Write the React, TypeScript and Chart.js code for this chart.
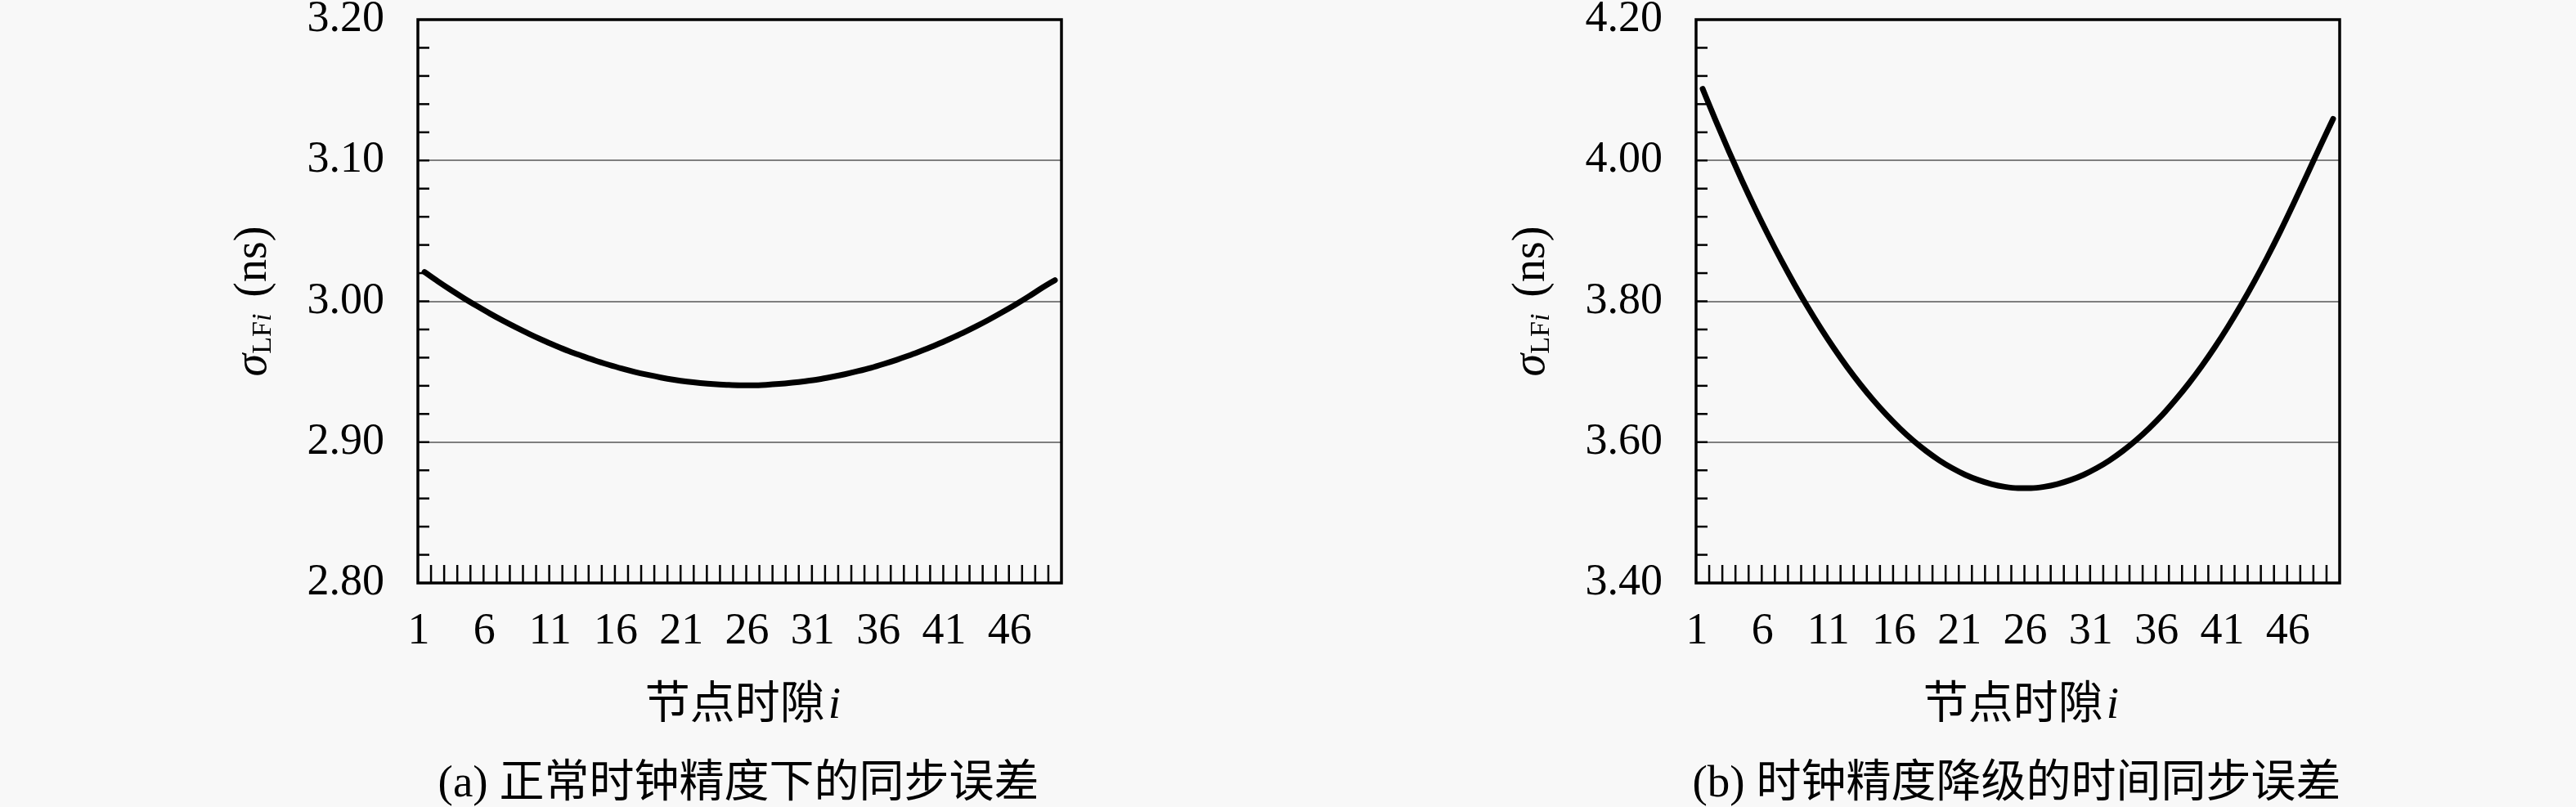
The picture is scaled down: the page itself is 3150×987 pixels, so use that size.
import React, { useEffect, useRef } from "react";
import { Chart, registerables } from "chart.js";

Chart.register(...registerables);

// ---------- data ----------
const slots = [
  "1", "2", "3", "4", "5", "6", "7", "8", "9", "10",
  "11", "12", "13", "14", "15", "16", "17", "18", "19", "20",
  "21", "22", "23", "24", "25", "26", "27", "28", "29", "30",
  "31", "32", "33", "34", "35", "36", "37", "38", "39", "40",
  "41", "42", "43", "44", "45", "46", "47", "48", "49",
];

// (a) normal clock accuracy
const normalSyncError = [
  3.0208, 3.0143, 3.0081, 3.0022, 2.9966, 2.9912, 2.9861, 2.9813, 2.9767, 2.9724,
  2.9684, 2.9646, 2.9612, 2.9579, 2.955, 2.9523, 2.9499, 2.9478, 2.9459, 2.9443,
  2.943, 2.942, 2.9412, 2.9407, 2.9404, 2.9404, 2.9407, 2.9413, 2.9422, 2.9433,
  2.9446, 2.9463, 2.9482, 2.9504, 2.9528, 2.9556, 2.9586, 2.9618, 2.9654, 2.9692,
  2.9733, 2.9776, 2.9822, 2.9871, 2.9923, 2.9977, 3.0034, 3.0094, 3.015,
];

// (b) degraded clock accuracy
const degradedSyncError = [
  4.1017, 4.0564, 4.0129, 3.9713, 3.9316, 3.8938, 3.8579, 3.8239, 3.7918, 3.7615,
  3.7332, 3.7067, 3.6822, 3.6595, 3.6387, 3.6198, 3.6028, 3.5877, 3.5744, 3.5631,
  3.5536, 3.5461, 3.5404, 3.5366, 3.5347, 3.5347, 3.5366, 3.5404, 3.5461, 3.5536,
  3.5631, 3.5744, 3.5877, 3.6028, 3.6198, 3.6387, 3.66, 3.683, 3.708, 3.735,
  3.764, 3.795, 3.828, 3.863, 3.9, 3.939, 3.979, 4.0195, 4.059,
];

const yRangeA = [2.8, 3.2];
const yStepA = 0.1;
const yMinorA = 0.02;
const yRangeB = [3.4, 4.2];
const yStepB = 0.2;
const yMinorB = 0.04;

const xTitleText = "节点时隙";
const captionA = "(a) 正常时钟精度下的同步误差";
const captionB = "(b) 时钟精度降级的时间同步误差";

// ---------- styles ----------
const LATIN = "'Liberation Serif', 'DejaVu Serif', serif";
const CJK = "'Noto Sans CJK SC', sans-serif";
const MIXED = "'Liberation Serif', 'Noto Sans CJK SC', serif";
const BG = "#f8f8f8";

type PanelCfg = {
  values: number[];
  yMin: number;
  yMax: number;
  yStep: number;
  yMinor: number;
  caption: string;
};

function makeDecor(cfg: PanelCfg) {
  return {
    id: "decor",
    afterDraw(chart: any) {
      const { ctx, chartArea: a, scales } = chart;
      const xs = scales.x;
      const ys = scales.y;
      ctx.save();
      ctx.strokeStyle = "#000";
      ctx.lineCap = "butt";
      ctx.lineWidth = 2.5;
      // y minor ticks (inward)
      const n = Math.round((cfg.yMax - cfg.yMin) / cfg.yMinor);
      for (let k = 1; k < n; k++) {
        const py = ys.getPixelForValue(cfg.yMin + k * cfg.yMinor);
        ctx.beginPath();
        ctx.moveTo(a.left, py);
        ctx.lineTo(a.left + 14, py);
        ctx.stroke();
      }
      // x ticks at category boundaries (inward)
      for (let k = 1; k < slots.length; k++) {
        const px = (xs.getPixelForValue(k - 1) + xs.getPixelForValue(k)) / 2;
        ctx.beginPath();
        ctx.moveTo(px, a.bottom);
        ctx.lineTo(px, a.bottom - 22);
        ctx.stroke();
      }
      // frame
      ctx.lineWidth = 3.5;
      ctx.strokeRect(a.left, a.top, a.right - a.left, a.bottom - a.top);

      ctx.fillStyle = "#000";
      ctx.textBaseline = "alphabetic";
      ctx.textAlign = "left";

      // y title: sigma_{LFi} (ns), rotated
      const parts = [
        { t: "σ", f: `italic 56px ${LATIN}`, dy: 0, gap: 0 },
        { t: "LF", f: `34px ${LATIN}`, dy: 6, gap: 0 },
        { t: "i", f: `italic 34px ${LATIN}`, dy: 6, gap: 0 },
        { t: "(ns)", f: `56px ${LATIN}`, dy: 0, gap: 20 },
      ];
      let total = 0;
      const widths: number[] = [];
      for (const p of parts) {
        ctx.font = p.f;
        const w = ctx.measureText(p.t).width;
        widths.push(w);
        total += w + p.gap;
      }
      ctx.save();
      ctx.translate(a.left - 186, (a.top + a.bottom) / 2);
      ctx.rotate(-Math.PI / 2);
      let cx = -total / 2;
      parts.forEach((p, i) => {
        cx += p.gap;
        ctx.font = p.f;
        ctx.fillText(p.t, cx, p.dy);
        cx += widths[i];
      });
      ctx.restore();

      // x title: 节点时隙 i
      const midX = (a.left + a.right) / 2;
      ctx.font = `55px ${CJK}`;
      const wT = ctx.measureText(xTitleText).width;
      ctx.font = `italic 55px ${LATIN}`;
      const wI = ctx.measureText("i").width;
      const tx = midX + 4 - (wT + wI + 4) / 2;
      ctx.font = `55px ${CJK}`;
      ctx.fillText(xTitleText, tx, 878);
      ctx.font = `italic 55px ${LATIN}`;
      ctx.fillText("i", tx + wT + 4, 878);

      // caption
      ctx.font = `55px ${MIXED}`;
      ctx.textAlign = "center";
      ctx.fillText(cfg.caption, midX - 1.5, 974);
      ctx.restore();
    },
  };
}

function makeChart(canvas: HTMLCanvasElement, cfg: PanelCfg) {
  return new Chart(canvas, {
    type: "line",
    data: {
      labels: slots,
      datasets: [
        {
          data: cfg.values,
          borderColor: "#000",
          borderWidth: 7,
          borderCapStyle: "round",
          borderJoinStyle: "round",
          pointRadius: 0,
          cubicInterpolationMode: "monotone",
          fill: false,
        },
      ],
    },
    options: {
      animation: false,
      responsive: false,
      devicePixelRatio: 1,
      layout: { autoPadding: false, padding: { top: 24, right: 32, left: 0, bottom: 0 } },
      plugins: {
        legend: { display: false },
        tooltip: { enabled: false },
        title: { display: false },
      },
      scales: {
        x: {
          type: "category",
          offset: true,
          grid: { display: false, offset: true, drawTicks: false },
          border: { display: false },
          ticks: {
            autoSkip: false,
            maxRotation: 0,
            minRotation: 0,
            padding: 27,
            labelOffset: -7,
            color: "#000",
            font: { family: LATIN, size: 54 },
            callback: (_v: any, idx: number) => (idx % 5 === 0 ? slots[idx] : ""),
          },
          afterFit: (s: any) => {
            s.height = 274;
            s.paddingLeft = 0;
            s.paddingRight = 0;
          },
        },
        y: {
          min: cfg.yMin,
          max: cfg.yMax,
          grid: { color: "#7f7f7f", lineWidth: 2, drawTicks: false },
          border: { display: false },
          ticks: {
            stepSize: cfg.yStep,
            padding: 41,
            color: "#000",
            font: { family: LATIN, size: 54, lineHeight: 0.8 },
            callback: (v: any) => Number(v).toFixed(2),
          },
          afterFit: (s: any) => {
            s.width = 311;
            s.paddingTop = 0;
            s.paddingBottom = 0;
          },
        },
      },
    },
    plugins: [makeDecor(cfg)],
  } as any);
}

export default function App() {
  const refA = useRef<HTMLCanvasElement>(null);
  const refB = useRef<HTMLCanvasElement>(null);

  useEffect(() => {
    const a = makeChart(refA.current!, {
      values: normalSyncError,
      yMin: yRangeA[0],
      yMax: yRangeA[1],
      yStep: yStepA,
      yMinor: yMinorA,
      caption: captionA,
    });
    const b = makeChart(refB.current!, {
      values: degradedSyncError,
      yMin: yRangeB[0],
      yMax: yRangeB[1],
      yStep: yStepB,
      yMinor: yMinorB,
      caption: captionB,
    });
    return () => {
      a.destroy();
      b.destroy();
    };
  }, []);

  return (
    <div
      style={{
        position: "absolute",
        left: 0,
        top: 0,
        width: 3150,
        height: 987,
        background: BG,
        overflow: "hidden",
      }}
    >
      <canvas
        ref={refA}
        width={1130}
        height={987}
        style={{ position: "absolute", left: 200, top: 0, width: 1130, height: 987 }}
      />
      <canvas
        ref={refB}
        width={1130}
        height={987}
        style={{ position: "absolute", left: 1763, top: 0, width: 1130, height: 987 }}
      />
    </div>
  );
}
